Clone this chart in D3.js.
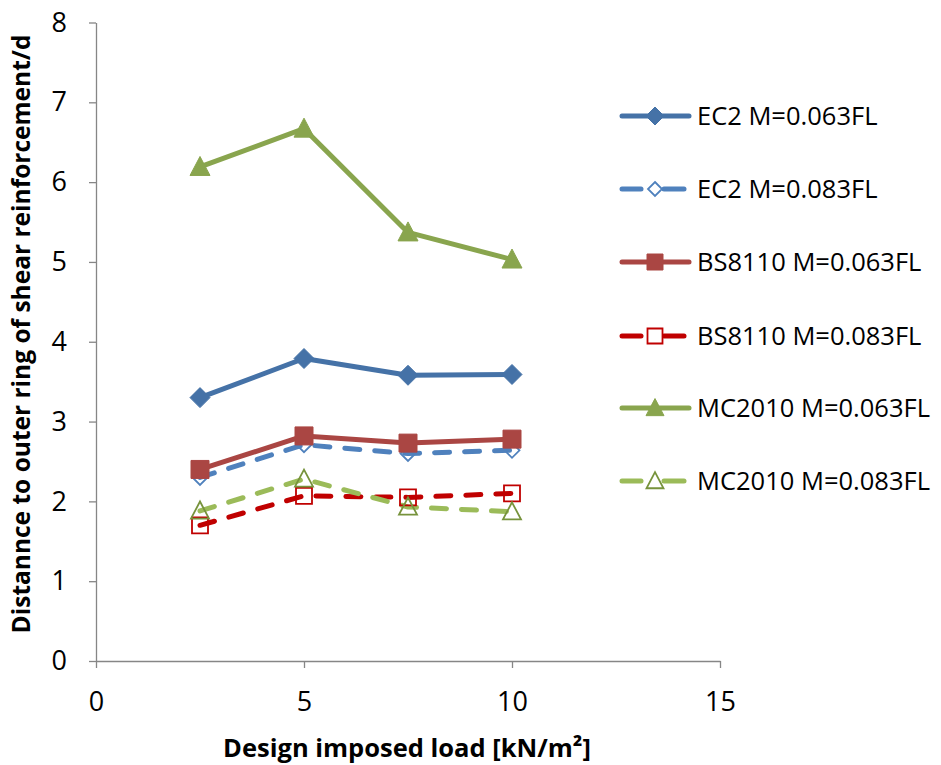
<!DOCTYPE html>
<html>
<head>
<meta charset="utf-8">
<script src="https://cdn.jsdelivr.net/npm/d3@7/dist/d3.min.js"></script>
<style>
  html, body { margin: 0; padding: 0; background: #fff; }
  svg { display: block; }
  text { font-family: "Open Sans", "Noto Sans", sans-serif; }
</style>
</head>
<body>
<svg id="chart" width="941" height="765"></svg>
<script>
// Imposed load values (kN/m²)
const loads = [2.5, 5, 7.5, 10];

// Distance to outer ring of shear reinforcement / d, per design code and moment
const ec2_063 = [3.30, 3.79, 3.58, 3.59];
const ec2_083 = [2.30, 2.71, 2.60, 2.64];
const bs_063 = [2.40, 2.82, 2.73, 2.78];
const bs_083 = [1.70, 2.07, 2.05, 2.10];
const mc_063 = [6.19, 6.67, 5.37, 5.03];
const mc_083 = [1.88, 2.28, 1.93, 1.87];

const seriesNames = [
  "EC2 M=0.063FL", "EC2 M=0.083FL",
  "BS8110 M=0.063FL", "BS8110 M=0.083FL",
  "MC2010 M=0.063FL", "MC2010 M=0.083FL"
];

const xTicks = [0, 5, 10, 15];
const yTicks = [0, 1, 2, 3, 4, 5, 6, 7, 8];

const xTitle = "Design imposed load [kN/m²]";
const yTitle = "Distannce to outer ring of shear reinforcement/d";

const series = [
  { name: seriesNames[0], values: ec2_063, color: "#4572A7", dashed: false, marker: "diamond", filled: true },
  { name: seriesNames[1], values: ec2_083, color: "#4F81BD", dashed: true,  marker: "diamond", filled: false },
  { name: seriesNames[2], values: bs_063,  color: "#AA4643", dashed: false, marker: "square",  filled: true },
  { name: seriesNames[3], values: bs_083,  color: "#C00000", dashed: true,  marker: "square",  filled: false },
  { name: seriesNames[4], values: mc_063,  color: "#89A54E", dashed: false, marker: "triangle", filled: true },
  { name: seriesNames[5], values: mc_083,  color: "#9BBB59", dashed: true,  marker: "triangle", filled: false, markerStroke: "#77933C" }
];

const svg = d3.select("#chart");
const axisColor = "#868686";

const x = d3.scaleLinear().domain([0, 15]).range([96, 720]);
const y = d3.scaleLinear().domain([0, 8]).range([661, 22.5]);

// Axes
const gx = svg.append("g").attr("transform", `translate(0,${y(0)})`)
  .call(d3.axisBottom(x).tickValues(xTicks).tickSize(7).tickSizeOuter(0).tickPadding(24));
const gy = svg.append("g").attr("transform", `translate(${x(0)},0)`)
  .call(d3.axisLeft(y).tickValues(yTicks).tickSize(7).tickSizeOuter(0).tickPadding(22));

[gx, gy].forEach(g => {
  g.select(".domain").attr("stroke", axisColor).attr("stroke-width", 1.3);
  g.selectAll(".tick line").attr("stroke", axisColor).attr("stroke-width", 1.3);
  g.selectAll(".tick text")
    .attr("fill", "#000")
    .style("font-family", "'Open Sans', sans-serif")
    .style("font-size", "27px");
});

// Axis titles
svg.append("text")
  .attr("x", 407).attr("y", 757)
  .attr("text-anchor", "middle")
  .style("font-size", "25.5px").style("font-weight", "bold")
  .text(xTitle);

svg.append("text")
  .attr("transform", "translate(30,334) rotate(-90)")
  .attr("text-anchor", "middle")
  .style("font-size", "24.5px").style("font-weight", "bold")
  .text(yTitle);

// Marker shapes
function markerPath(kind, size) {
  const s = size / 2;
  if (kind === "diamond") return `M0,${-s}L${s},0L0,${s}L${-s},0Z`;
  if (kind === "square") return `M${-s},${-s}H${s}V${s}H${-s}Z`;
  // triangle
  return `M0,${-s * 1.05}L${s},${s * 0.85}L${-s},${s * 0.85}Z`;
}

function markerSize(d) {
  if (d.marker === "diamond") return d.filled ? 20 : 15;
  if (d.marker === "square") return d.filled ? 18 : 16;
  return d.filled ? 20 : 18;
}

const line = d3.line().x((v, i) => x(loads[i])).y(v => y(v));

// Lines
const plot = svg.append("g");
series.forEach(s => {
  plot.append("path")
    .datum(s.values)
    .attr("d", line)
    .attr("fill", "none")
    .attr("stroke", s.color)
    .attr("stroke-width", 5)
    .attr("stroke-linejoin", "round")
    .attr("stroke-linecap", "round")
    .attr("stroke-dasharray", s.dashed ? "15,15" : null);
});

// Markers
series.forEach(s => {
  const size = markerSize(s);
  plot.append("g").selectAll("path")
    .data(s.values)
    .join("path")
    .attr("transform", (v, i) => `translate(${x(loads[i])},${y(v)})`)
    .attr("d", markerPath(s.marker, size))
    .attr("fill", s.filled ? s.color : "none")
    .attr("stroke", s.filled ? s.color : (s.markerStroke || s.color))
    .attr("stroke-width", s.filled ? 1 : 1.8);
});

// Legend
const legendY = [116, 189, 262, 336, 408, 481];
const legend = svg.append("g");
series.forEach((s, i) => {
  const g = legend.append("g").attr("transform", `translate(0,${legendY[i]})`);
  if (s.dashed) {
    g.append("line").attr("x1", 622).attr("x2", 641).attr("y1", 0).attr("y2", 0)
      .attr("stroke", s.color).attr("stroke-width", 5).attr("stroke-linecap", "round");
    g.append("line").attr("x1", 664).attr("x2", 684).attr("y1", 0).attr("y2", 0)
      .attr("stroke", s.color).attr("stroke-width", 5).attr("stroke-linecap", "round");
  } else {
    g.append("line").attr("x1", 622).attr("x2", 689).attr("y1", 0).attr("y2", 0)
      .attr("stroke", s.color).attr("stroke-width", 5).attr("stroke-linecap", "round");
  }
  const size = markerSize(s) - (s.filled ? 2 : 1);
  g.append("path")
    .attr("transform", "translate(655,0)")
    .attr("d", markerPath(s.marker, size))
    .attr("fill", s.filled ? s.color : "#fff")
    .attr("stroke", s.filled ? s.color : (s.markerStroke || s.color))
    .attr("stroke-width", s.filled ? 1 : 1.8);
  g.append("text")
    .attr("x", 697).attr("y", 0).attr("dy", "0.35em")
    .style("font-size", "25.5px")
    .text(s.name);
});
</script>
</body>
</html>
